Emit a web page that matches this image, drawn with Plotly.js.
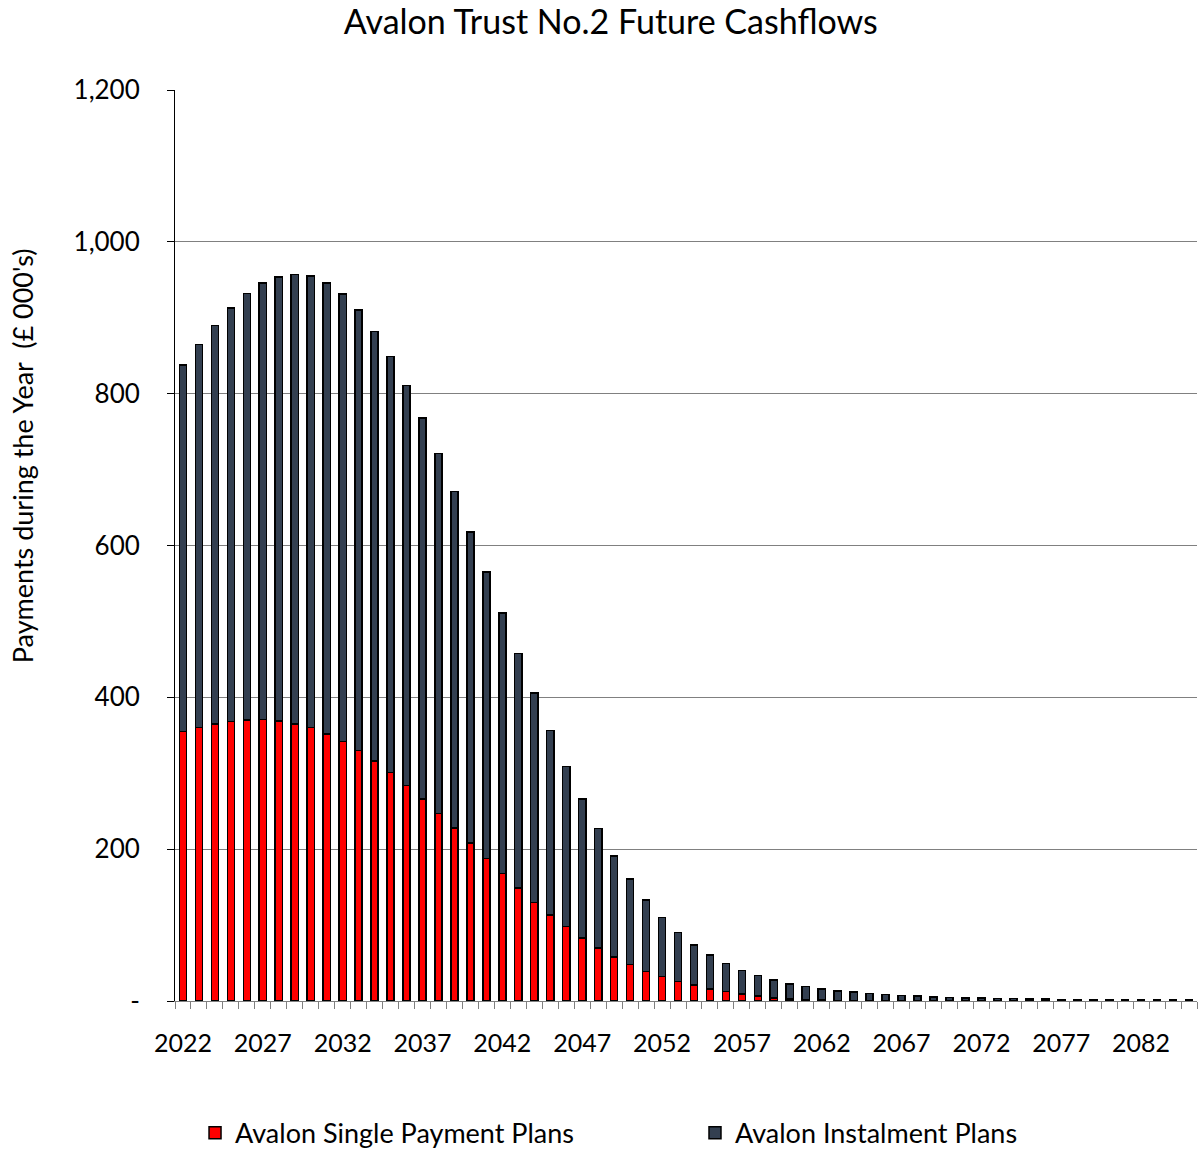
<!DOCTYPE html>
<html>
<head>
<meta charset="utf-8">
<script src="https://cdn.plot.ly/plotly-3.0.1.min.js"></script>
<style>html,body{margin:0;padding:0;background:#fff;}#chart{width:1200px;height:1153px;}</style>
</head>
<body>
<div id="chart"></div>
<script>
const years = [2022,2023,2024,2025,2026,2027,2028,2029,2030,2031,2032,2033,2034,2035,2036,2037,2038,2039,2040,2041,
2042,2043,2044,2045,2046,2047,2048,2049,2050,2051,2052,2053,2054,2055,2056,2057,2058,2059,2060,2061,
2062,2063,2064,2065,2066,2067,2068,2069,2070,2071,2072,2073,2074,2075,2076,2077,2078,2079,2080,2081,
2082,2083,2084,2085];

const singlePayment = [355,360,365,368,370,371,369,365,360,352,342,330,316,301,284,266,247,228,208,188,
168,149,130,113,98,83,70,58,48,39,32,25.5,20.8,16,12.5,9,6.4,4.2,2.9,2,
1.3,0.9,0.6,0.4,0.3,0.2,0.1,0.1,0.1,0.1,0.1,0.1,0.1,0.1,0.1,0.1,0.1,0.1,0.1,0.1,
0.1,0.1,0.1,0.1];

const instalment = [483,505,525,545,562,575,585,592,595,594,589,580,566,548,527,502,474,443,410,377,
343,309,276,243,211,183,157,133,113,94,78,64.5,53.2,44.5,37,31.5,27.1,23.2,19.7,17,
14.7,12.5,11,9.5,8.3,7,6.2,5.4,4.5,4.1,3.7,3.3,2.9,2.6,2.4,2.2,2.0,1.9,1.8,1.7,
1.6,1.5,1.4,1.3];

const xTickVals = [2022,2027,2032,2037,2042,2047,2052,2057,2062,2067,2072,2077,2082];
const xTickText = ['2022','2027','2032','2037','2042','2047','2052','2057','2062','2067','2072','2077','2082'];
const yTickVals = [0,200,400,600,800,1000,1200];
const yTickText = ['-','200','400','600','800','1,000','1,200'];

const FONT = 'Lato, "Open Sans", sans-serif';

const traces = [
  {type:'bar', name:'Avalon Single Payment Plans', x:years, y:singlePayment, width:0.45, legend:'legend',
   marker:{color:'#FF0000', line:{color:'#000000', width:1.5}}},
  {type:'bar', name:'Avalon Instalment Plans', x:years, y:instalment, width:0.45, legend:'legend2',
   marker:{color:'#333F50', line:{color:'#000000', width:1.5}}}
];

const legendCommon = {orientation:'h', yanchor:'middle', y:-0.145, xanchor:'left', itemwidth:30,
                      font:{family:FONT, size:27, color:'#000000'}, bgcolor:'rgba(0,0,0,0)'};

const layout = {
  width:1200, height:1153,
  paper_bgcolor:'#ffffff', plot_bgcolor:'#ffffff',
  barmode:'stack',
  margin:{l:175, r:3, t:90, b:152, autoexpand:false},
  font:{family:FONT, color:'#000000', size:25},
  title:{text:'Avalon Trust No.2 Future Cashflows', font:{family:FONT, size:34, color:'#000000'},
         x:0.509, xanchor:'center', y:0.981, yanchor:'middle'},
  xaxis:{type:'linear', range:[2021.5,2085.5], tickmode:'array', tickvals:xTickVals, ticktext:xTickText,
         ticks:'', showgrid:false, zeroline:false, showline:true, linecolor:'#808080', linewidth:1,
         ticklabelstandoff:20,
         tickfont:{family:FONT, size:25, color:'#000000'},
         minor:{tickmode:'linear', tick0:2021.5, dtick:1, ticks:'outside', ticklen:7, tickcolor:'#808080', tickwidth:1, showgrid:false}},
  yaxis:{range:[0,1200], tickmode:'array', tickvals:yTickVals, ticktext:yTickText,
         ticks:'outside', ticklen:7, tickcolor:'#000000', tickwidth:1,
         showgrid:true, gridcolor:'#808080', gridwidth:1, zeroline:false,
         showline:true, linecolor:'#000000', linewidth:1,
         ticklabelstandoff:22,
         tickfont:{family:FONT, size:26, color:'#000000'}},
  annotations:[{text:"Payments during the Year  (£ 000's)", xref:'paper', yref:'paper', x:-0.1497, y:0.598,
                xanchor:'center', yanchor:'middle', textangle:-90, showarrow:false,
                font:{family:FONT, size:27, color:'#000000'}}],
  legend:Object.assign({}, legendCommon, {x:0.0196}),
  legend2:Object.assign({}, legendCommon, {x:0.5088}),
  showlegend:true
};

Plotly.newPlot('chart', traces, layout, {displayModeBar:false, staticPlot:true});
</script>
</body>
</html>
